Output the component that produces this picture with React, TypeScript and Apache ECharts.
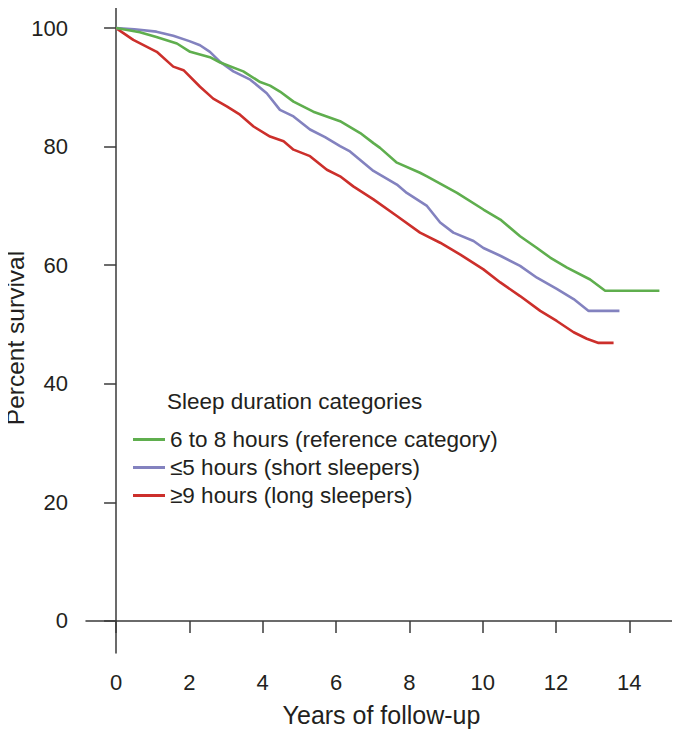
import React, { useEffect, useRef } from "react";
import * as echarts from "echarts";

const seriesNames = [
  "6 to 8 hours (reference category)",
  "≤5 hours (short sleepers)",
  "≥9 hours (long sleepers)",
];
const seriesColors = ["#5fae4e", "#8382bf", "#cc2f2b"];

const normalSleep: [number, number][] = [
  [0, 100], [0.65, 99.3], [1.1, 98.5], [1.66, 97.4], [2.02, 96.0], [2.56, 95.1],
  [2.84, 94.2], [3.47, 92.7], [3.93, 90.9], [4.2, 90.3], [4.47, 89.3], [4.84, 87.6],
  [5.38, 85.9], [6.11, 84.3], [6.66, 82.3], [7.02, 80.6], [7.2, 79.8], [7.66, 77.3],
  [8.29, 75.6], [8.48, 75.0], [9.3, 72.2], [10.02, 69.4], [10.48, 67.7], [11.02, 64.9],
  [11.48, 62.9], [11.84, 61.3], [12.3, 59.6], [12.93, 57.6], [13.34, 55.7], [14.82, 55.7],
];
const shortSleep: [number, number][] = [
  [0, 100], [0.5, 99.8], [1.1, 99.4], [1.56, 98.7], [2.0, 97.8], [2.29, 97.1],
  [2.56, 96.0], [2.84, 94.3], [3.2, 92.7], [3.66, 91.3], [4.11, 89.0], [4.47, 86.2],
  [4.84, 85.1], [5.29, 82.9], [5.7, 81.6], [6.11, 80.1], [6.38, 79.2], [7.02, 75.9],
  [7.66, 73.6], [7.93, 72.2], [8.48, 70.0], [8.84, 67.2], [9.2, 65.5], [9.75, 64.1],
  [10.02, 62.9], [10.48, 61.6], [11.02, 59.9], [11.48, 57.9], [12.02, 56.0], [12.48, 54.3],
  [12.89, 52.3], [13.73, 52.3],
];
const longSleep: [number, number][] = [
  [0, 100], [0.47, 98.0], [1.11, 96.0], [1.56, 93.5], [1.84, 92.9], [2.29, 90.1],
  [2.65, 88.1], [3.02, 86.8], [3.38, 85.4], [3.75, 83.4], [4.2, 81.7], [4.57, 80.9],
  [4.84, 79.5], [5.29, 78.4], [5.75, 76.1], [6.11, 75.0], [6.47, 73.3], [7.02, 71.1],
  [7.66, 68.3], [8.29, 65.5], [8.84, 63.8], [9.39, 61.8], [10.02, 59.3], [10.48, 57.1],
  [11.02, 54.8], [11.57, 52.3], [12.02, 50.6], [12.48, 48.7], [12.84, 47.6], [13.16, 46.9],
  [13.57, 46.9],
];

const xTicks = [0, 2, 4, 6, 8, 10, 12, 14];
const yTicks = [0, 20, 40, 60, 80, 100];
const legendTitle = "Sleep duration categories";
const xTitle = "Years of follow-up";
const yTitle = "Percent survival";

const FONT = "'Liberation Sans', Arial, sans-serif";
const TEXT = "#231f20";
const AXIS = "#3a3a3a";

export default function App() {
  const ref = useRef<HTMLDivElement>(null);
  useEffect(() => {
    if (!ref.current) return;
    const chart = echarts.init(ref.current, undefined, { renderer: "svg" });
    const data = [normalSleep, shortSleep, longSleep];
    chart.setOption({
      animation: false,
      grid: { left: 86, right: 3, top: 2, bottom: 77 },
      xAxis: {
        type: "value",
        min: -0.82,
        max: 15.3,
        splitLine: { show: false },
        axisLine: { lineStyle: { color: AXIS, width: 1.5 } },
        axisTick: { customValues: xTicks, length: 12, lineStyle: { color: AXIS, width: 1.5 } },
        axisLabel: {
          customValues: xTicks,
          margin: 18,
          fontSize: 22,
          fontFamily: FONT,
          color: TEXT,
        },
        name: xTitle,
        nameLocation: "middle",
        nameGap: 49,
        nameTextStyle: { fontSize: 25, fontFamily: FONT, color: TEXT },
      },
      yAxis: {
        type: "value",
        min: -5.4,
        max: 104.4,
        splitLine: { show: false },
        axisLine: { show: true, lineStyle: { color: AXIS, width: 1.5 } },
        axisTick: { show: true, customValues: yTicks, length: 12, lineStyle: { color: AXIS, width: 1.5 } },
        axisLabel: {
          customValues: yTicks,
          margin: 18,
          fontSize: 22,
          fontFamily: FONT,
          color: TEXT,
        },
      },
      legend: {
        orient: "vertical",
        left: 128,
        top: 423,
        icon: "rect",
        itemWidth: 32,
        itemHeight: 3,
        itemGap: 5,
        textStyle: { fontSize: 22.5, lineHeight: 22, fontFamily: FONT, color: TEXT },
        data: seriesNames,
      },
      graphic: [
        {
          type: "text",
          left: 167,
          top: 390,
          style: { text: legendTitle, fontSize: 22.5, fontFamily: FONT, fill: TEXT },
        },
        {
          type: "text",
          x: 15,
          y: 338,
          rotation: Math.PI / 2,
          style: {
            text: yTitle,
            fontSize: 24.5,
            fontFamily: FONT,
            fill: TEXT,
            align: "center",
            verticalAlign: "middle",
          },
        },
      ],
      series: data.map((d, i) => ({
        name: seriesNames[i],
        type: "line",
        data: d,
        symbol: "none",
        showSymbol: false,
        lineStyle: { color: seriesColors[i], width: 2.6 },
        itemStyle: { color: seriesColors[i] },
        z: 3 - i,
      })),
    });
    return () => chart.dispose();
  }, []);
  return <div ref={ref} style={{ width: 680, height: 732, marginLeft: -8, marginTop: -8 }} />;
}
